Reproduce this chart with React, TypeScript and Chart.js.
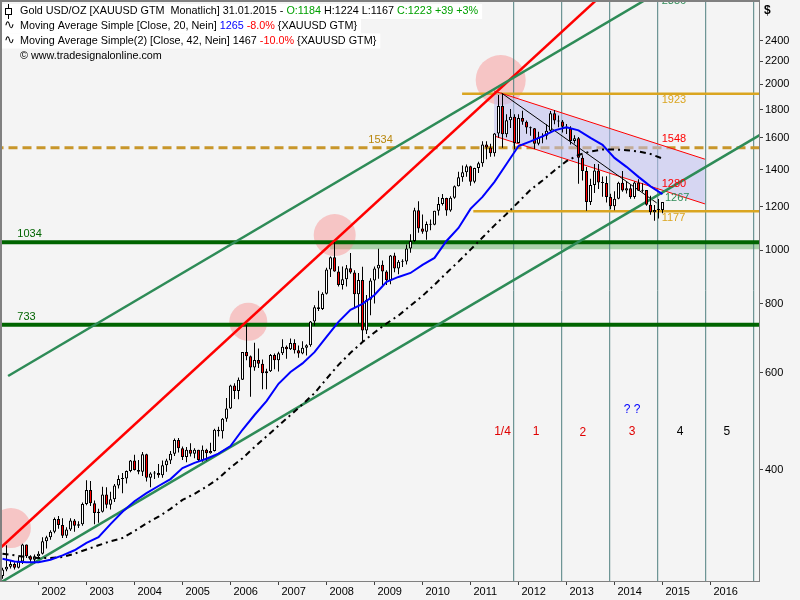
import React, { useEffect, useRef } from "react";
import { Chart, registerables } from "chart.js";

Chart.register(...registerables);

// x values are months counted from Jan 2001 (0 = Jan 2001). First candle = Apr 2001.
const firstMonth = 3;

const opens = [
  257, 264, 267, 270, 266, 273, 293, 279, 275,
  279, 282, 297, 302, 309, 326, 318, 304, 312, 324, 317, 319,
  347, 368, 348, 334, 336, 361, 346, 354, 375, 385, 386, 398,
  416, 400, 397, 427, 387, 394, 395, 391, 408, 416, 428, 453,
  438, 422, 435, 428, 435, 417, 435, 429, 433, 473, 470, 495,
  517, 569, 556, 583, 654, 643, 613, 633, 623, 599, 604, 646,
  632, 651, 669, 662, 679, 659, 650, 666, 673, 743, 789, 783,
  834, 923, 972, 916, 865, 886, 928, 912, 833, 884, 716, 814,
  882, 927, 942, 916, 883, 979, 927, 954, 955, 1008, 1040, 1182,
  1096, 1081, 1116, 1113, 1180, 1213, 1244, 1181, 1246, 1307, 1357, 1386,
  1421, 1332, 1410, 1439, 1556, 1536, 1500, 1628, 1826, 1624, 1722, 1746,
  1565, 1738, 1710, 1669, 1664, 1560, 1604, 1614, 1648, 1773, 1719, 1713,
  1675, 1663, 1579, 1596, 1472, 1393, 1224, 1313, 1396, 1327, 1324, 1250,
  1202, 1240, 1326, 1284, 1296, 1250, 1327, 1282, 1287, 1210, 1172, 1183,
  1184,
];
const highs = [
  266, 292, 274, 272, 278, 294, 293, 280, 281,
  285, 302, 304, 311, 328, 330, 327, 315, 327, 326, 323, 349,
  383, 382, 352, 340, 373, 372, 365, 377, 391, 395, 399, 417,
  426, 417, 431, 428, 396, 398, 410, 416, 419, 433, 456, 457,
  441, 440, 447, 438, 435, 443, 437, 448, 475, 479, 497, 540,
  571, 574, 588, 654, 732, 645, 680, 664, 634, 610, 649, 650,
  655, 690, 672, 692, 690, 672, 684, 676, 745, 795, 845, 840,
  930, 975, 1034, 936, 935, 941, 989, 920, 910, 934, 830, 890,
  935, 1007, 959, 920, 981, 990, 961, 964, 1025, 1070, 1195, 1227,
  1162, 1128, 1137, 1180, 1249, 1265, 1246, 1253, 1311, 1388, 1425, 1431,
  1424, 1411, 1447, 1576, 1577, 1560, 1632, 1912, 1921, 1764, 1804, 1764,
  1764, 1791, 1720, 1677, 1666, 1640, 1630, 1692, 1788, 1796, 1755, 1723,
  1694, 1678, 1616, 1605, 1488, 1416, 1348, 1434, 1434, 1361, 1362, 1267,
  1280, 1332, 1392, 1331, 1315, 1333, 1345, 1323, 1287, 1256, 1209, 1239,
  1224,
];
const lows = [
  254, 262, 265, 264, 265, 270, 277, 271, 271,
  277, 281, 288, 299, 307, 313, 301, 301, 310, 309, 314, 317,
  345, 344, 319, 321, 335, 341, 339, 350, 370, 363, 378, 396,
  399, 393, 390, 381, 372, 385, 387, 387, 397, 410, 424, 430,
  417, 413, 423, 420, 414, 414, 416, 428, 432, 460, 456, 489,
  516, 538, 537, 582, 632, 543, 605, 612, 560, 560, 602, 609,
  603, 646, 636, 660, 650, 639, 648, 645, 669, 730, 776, 780,
  832, 895, 915, 860, 849, 860, 907, 786, 736, 681, 705, 763,
  801, 888, 865, 865, 868, 913, 905, 933, 943, 990, 1035, 1076,
  1072, 1045, 1088, 1110, 1156, 1206, 1155, 1175, 1240, 1305, 1331, 1360,
  1309, 1323, 1381, 1417, 1462, 1478, 1480, 1600, 1535, 1604, 1667, 1523,
  1563, 1690, 1627, 1614, 1527, 1550, 1564, 1589, 1640, 1693, 1672, 1636,
  1626, 1555, 1562, 1321, 1338, 1180, 1208, 1271, 1292, 1251, 1221, 1187,
  1182, 1238, 1277, 1268, 1240, 1240, 1281, 1273, 1205, 1160, 1131, 1142,
  1167,
];
const closes = [
  264, 267, 270, 266, 273, 293, 279, 275, 279,
  282, 297, 302, 309, 326, 318, 304, 312, 324, 317, 319, 347,
  368, 348, 334, 336, 361, 346, 354, 375, 385, 386, 398, 416,
  400, 397, 427, 387, 394, 395, 391, 408, 416, 428, 453, 438,
  422, 435, 428, 435, 417, 435, 429, 433, 473, 470, 495, 517,
  569, 556, 583, 654, 643, 613, 633, 623, 599, 604, 646, 632,
  651, 669, 662, 679, 659, 650, 666, 673, 743, 789, 783, 834,
  923, 972, 916, 865, 886, 928, 912, 833, 884, 716, 814, 882,
  927, 942, 916, 883, 979, 927, 954, 955, 1008, 1040, 1182, 1096,
  1081, 1116, 1113, 1180, 1213, 1244, 1181, 1246, 1307, 1357, 1386, 1421,
  1332, 1410, 1439, 1556, 1536, 1500, 1628, 1826, 1624, 1722, 1746, 1565,
  1738, 1710, 1669, 1664, 1560, 1604, 1614, 1648, 1773, 1719, 1713, 1675,
  1663, 1579, 1596, 1472, 1393, 1224, 1313, 1396, 1327, 1324, 1250, 1202,
  1240, 1326, 1284, 1296, 1250, 1327, 1282, 1287, 1210, 1172, 1183, 1184,
  1223,
];

// moving averages (every third month)
const maMonths = [
  3, 6, 9, 12, 15, 18, 21, 24, 27, 30, 33, 36, 39, 42, 45, 48, 51, 54, 57, 60,
  63, 66, 69, 72, 75, 78, 81, 84, 87, 90, 93, 96, 99, 102, 105, 108, 111, 114,
  117, 120, 123, 126, 129, 132, 135, 138, 141, 144, 147, 150, 153, 156, 159,
  162, 165, 168,
];
const ma20 = [
  276, 273, 272, 272, 275, 280, 286, 295, 302, 319, 336, 351, 363, 374, 385,
  403, 412, 419, 428, 442, 473, 503, 533, 573, 602, 624, 654, 697, 742, 780,
  800, 830, 877, 895, 910, 941, 969, 1040, 1098, 1189, 1250, 1331, 1434, 1546,
  1576, 1609, 1650, 1672, 1650, 1599, 1553, 1471, 1417, 1359, 1306, 1265,
];
const ma42 = [
  282, 280, 278, 277, 277, 278, 282, 287, 292, 297, 301, 310, 320, 329, 340,
  353, 362, 373, 386, 404, 420, 440, 460, 481, 503, 526, 551, 585, 620, 652,
  682, 710, 737, 762, 794, 827, 866, 910, 954, 1003, 1055, 1110, 1164, 1224,
  1287, 1338, 1396, 1451, 1489, 1511, 1523, 1523, 1519, 1511, 1495, 1467,
];

const yearLabels = [2002, 2003, 2004, 2005, 2006, 2007, 2008, 2009, 2010, 2011, 2012, 2013, 2014, 2015, 2016];
const priceTicks = [400, 600, 800, 1000, 1200, 1400, 1600, 1800, 2000, 2200, 2400];

// drawn levels and trend lines (month, price)
const supportLevels = [1034, 733];
const topLevel = { from: 117.9, price: 1923 };
const bottomLevel = { from: 120.7, price: 1177 };
const dashedLevel = 1534;
const bandRange = { from: 84.9, top: 1034, bottom: 1005 };
const redTrend = [{ x: 2, y: 286.8 }, { x: 160, y: 3240 }];
const greenLower = [{ x: 2, y: 248.7 }, { x: 193, y: 1629 }];
const greenUpper = [{ x: 4.4, y: 592 }, { x: 193, y: 3796 }];
const channelUpper = [{ x: 125.9, y: 1945 }, { x: 178.6, y: 1463 }];
const channelLower = [{ x: 125.9, y: 1612 }, { x: 178.6, y: 1214 }];
const peakLine = [{ x: 127.8, y: 1927 }, { x: 166.55, y: 1219 }];
const circleCenters = [{ x: 5.1, y: 314 }, { x: 64.45, y: 742 }, { x: 86.05, y: 1066 }, { x: 127.55, y: 2036 }];
const circleRadii = [20, 19, 21, 25];
const cycleLines = [130.8, 142.8, 154.8, 166.8, 178.8, 190.8];

type Note = { text: string; x: number; y: number; color: string; align: CanvasTextAlign; size: number };
const notes: Note[] = [
  { text: "2856", x: 167.8, y: 2828, color: "#2e8b57", align: "left", size: 11 },
  { text: "1923", x: 167.8, y: 1873, color: "#daa520", align: "left", size: 11 },
  { text: "1548", x: 167.8, y: 1594, color: "#ff0000", align: "left", size: 11 },
  { text: "1280", x: 167.8, y: 1321, color: "#ff0000", align: "left", size: 11 },
  { text: "1267", x: 168.6, y: 1245, color: "#2e8b57", align: "left", size: 11 },
  { text: "1177", x: 167.8, y: 1147, color: "#daa520", align: "left", size: 11 },
  { text: "1534", x: 94.45, y: 1585, color: "#b8860b", align: "left", size: 11 },
  { text: "1034", x: 6.7, y: 1069, color: "#006400", align: "left", size: 11 },
  { text: "733", x: 6.7, y: 756, color: "#006400", align: "left", size: 11 },
  { text: "1/4", x: 128.0, y: 469, color: "#e00000", align: "center", size: 12 },
  { text: "1", x: 136.4, y: 469, color: "#e00000", align: "center", size: 12 },
  { text: "2", x: 148.1, y: 467, color: "#e00000", align: "center", size: 12 },
  { text: "3", x: 160.4, y: 469, color: "#e00000", align: "center", size: 12 },
  { text: "4", x: 172.4, y: 469, color: "#000000", align: "center", size: 12 },
  { text: "5", x: 184.1, y: 469, color: "#000000", align: "center", size: 12 },
  { text: "? ?", x: 160.4, y: 514, color: "#0000ff", align: "center", size: 12 },
];

type Seg = { t: string; c: string };
const headerRows: Seg[][] = [
  [
    { t: "Gold USD/OZ [XAUUSD GTM  Monatlich] 31.01.2015 - ", c: "#000000" },
    { t: "O:1184", c: "#00a000" },
    { t: " H:1224 L:1167 ", c: "#000000" },
    { t: "C:1223 +39 +3%", c: "#00a000" },
  ],
  [
    { t: "Moving Average Simple [Close, 20, Nein] ", c: "#000000" },
    { t: "1265", c: "#0000ff" },
    { t: " ", c: "#000000" },
    { t: "-8.0%", c: "#ff0000" },
    { t: " {XAUUSD GTM}", c: "#000000" },
  ],
  [
    { t: "Moving Average Simple(2) [Close, 42, Nein] 1467 ", c: "#000000" },
    { t: "-10.0%", c: "#ff0000" },
    { t: " {XAUUSD GTM}", c: "#000000" },
  ],
  [{ t: "\u00A9 www.tradesignalonline.com", c: "#000000" }],
];

const FONT = '"Liberation Sans", Arial, sans-serif';

const seg2 = (pts: { x: number; y: number }[]) => pts.map((p) => ({ x: p.x, y: p.y }));

export default function App() {
  const ref = useRef<HTMLCanvasElement>(null);

  useEffect(() => {
    const canvas = ref.current;
    if (!canvas) return;

    const months = opens.map((_, i) => firstMonth + i);
    const wickData = months.map((m, i) => ({ x: m, y: [lows[i], highs[i]] }));
    const bodyData = months.map((m, i) => ({
      x: m,
      y: [Math.min(opens[i], closes[i]), Math.max(opens[i], closes[i])],
    }));
    const bodyColors = months.map((_, i) => (closes[i] >= opens[i] ? "#ffffff" : "#ff0000"));

    const lineDs = (data: any[], color: string, width: number, order: number, extra: any = {}) => ({
      type: "line",
      data,
      borderColor: color,
      borderWidth: width,
      pointRadius: 0,
      pointHoverRadius: 0,
      fill: false,
      tension: 0,
      order,
      ...extra,
    });

    const datasets: any[] = [];
    // 0: band bottom, 1: band top (fills to 0)
    datasets.push(lineDs([{ x: bandRange.from, y: bandRange.bottom }, { x: 193, y: bandRange.bottom }], "rgba(0,0,0,0)", 0, 99));
    datasets.push(
      lineDs([{ x: bandRange.from, y: bandRange.top }, { x: 193, y: bandRange.top }], "rgba(0,0,0,0)", 0, 98, {
        fill: { target: 0 },
        backgroundColor: "rgba(80,165,80,0.45)",
      })
    );
    // 2: channel lower, 3: channel upper filled to lower
    datasets.push(lineDs(seg2(channelLower), "#ff0000", 1, 80));
    datasets.push(
      lineDs(seg2(channelUpper), "#ff0000", 1, 81, {
        fill: { target: 2 },
        backgroundColor: "rgba(190,190,240,0.55)",
      })
    );
    // circles
    datasets.push({
      type: "line",
      data: circleCenters.map((c) => ({ x: c.x, y: c.y })),
      showLine: false,
      pointRadius: circleRadii,
      pointHoverRadius: circleRadii,
      pointBackgroundColor: "rgba(248,140,140,0.45)",
      pointBorderWidth: 0,
      pointBorderColor: "rgba(0,0,0,0)",
      order: 97,
    });
    // cycle vertical lines
    cycleLines.forEach((m) => {
      datasets.push(lineDs([{ x: m, y: 200 }, { x: m, y: 4000 }], "#4f7f7f", 1, 96));
    });
    // horizontal levels
    supportLevels.forEach((p) => {
      datasets.push(lineDs([{ x: 1, y: p }, { x: 193, y: p }], "#006400", 4, 90));
    });
    datasets.push(lineDs([{ x: 1, y: dashedLevel }, { x: 193, y: dashedLevel }], "#c8962a", 3, 89, { borderDash: [9, 5] }));
    datasets.push(lineDs([{ x: topLevel.from, y: topLevel.price }, { x: 193, y: topLevel.price }], "#daa520", 2.5, 89));
    datasets.push(lineDs([{ x: bottomLevel.from, y: bottomLevel.price }, { x: 193, y: bottomLevel.price }], "#daa520", 2.5, 89));
    // trend lines
    datasets.push(lineDs(seg2(greenLower), "#2e8b57", 2.5, 70));
    datasets.push(lineDs(seg2(greenUpper), "#2e8b57", 2.5, 70));
    datasets.push(lineDs(seg2(redTrend), "#ff0000", 2.5, 70));
    datasets.push(lineDs(seg2(peakLine), "#000000", 1, 70));
    // candles
    datasets.push({
      type: "bar",
      data: wickData,
      backgroundColor: "#000000",
      borderWidth: 0,
      barThickness: 1,
      grouped: false,
      inflateAmount: 0,
      order: 51,
    });
    datasets.push({
      type: "bar",
      data: bodyData,
      backgroundColor: bodyColors,
      borderColor: "#000000",
      borderWidth: 1,
      borderSkipped: false,
      barThickness: 3,
      minBarLength: 1,
      grouped: false,
      inflateAmount: 0,
      order: 50,
    });
    // moving averages
    datasets.push(lineDs(maMonths.map((m, i) => ({ x: m, y: ma42[i] })), "#000000", 2, 41, { borderDash: [6, 4, 2, 4] }));
    datasets.push(lineDs(maMonths.map((m, i) => ({ x: m, y: ma20[i] })), "#0000ff", 2, 40));

    const decor = {
      id: "decor",
      beforeDraw(chart: any) {
        const ctx = chart.ctx;
        ctx.save();
        ctx.fillStyle = "#f4f4f4";
        ctx.fillRect(0, 0, chart.width, chart.height);
        ctx.restore();
      },
      afterDatasetsDraw(chart: any) {
        const ctx = chart.ctx;
        const xs = chart.scales.x;
        const ys = chart.scales.y;
        ctx.save();
        ctx.textBaseline = "middle";
        notes.forEach((n) => {
          ctx.font = `${n.size}px ${FONT}`;
          ctx.fillStyle = n.color;
          ctx.textAlign = n.align;
          ctx.fillText(n.text, xs.getPixelForValue(n.x), ys.getPixelForValue(n.y));
        });
        ctx.restore();
      },
      afterDraw(chart: any) {
        const ctx = chart.ctx;
        const a = chart.chartArea;
        ctx.save();
        // frame
        ctx.strokeStyle = "#808080";
        ctx.lineWidth = 2;
        ctx.beginPath();
        ctx.moveTo(a.left + 1, a.bottom);
        ctx.lineTo(a.left + 1, a.top + 1);
        ctx.lineTo(a.right, a.top + 1);
        ctx.stroke();
        // $ sign
        ctx.fillStyle = "#000";
        ctx.font = `bold 12px ${FONT}`;
        ctx.textBaseline = "middle";
        ctx.textAlign = "left";
        ctx.fillText("$", a.right + 5, 11);
        // header
        ctx.font = `10.8px ${FONT}`;
        const centers = [11.5, 26, 41, 56];
        headerRows.forEach((row, r) => {
          const y = centers[r];
          let w = 0;
          row.forEach((s) => (w += ctx.measureText(s.t).width));
          if (r < 3) {
            ctx.fillStyle = "#ffffff";
            ctx.fillRect(2, y - 7.5, 20 + w + 2, 15);
          }
          let x = 20;
          row.forEach((s) => {
            ctx.fillStyle = s.c;
            ctx.fillText(s.t, x, y);
            x += ctx.measureText(s.t).width;
          });
        });
        // icons
        ctx.strokeStyle = "#000";
        ctx.lineWidth = 1;
        ctx.beginPath();
        ctx.moveTo(8.5, 4);
        ctx.lineTo(8.5, 19);
        ctx.stroke();
        ctx.fillStyle = "#fff";
        ctx.fillRect(5.5, 8.5, 6, 6);
        ctx.strokeRect(5.5, 8.5, 6, 6);
        ctx.fillStyle = "#000";
        ctx.font = `13px "DejaVu Sans", sans-serif`;
        ctx.fillText("\u223F", 4, 26);
        ctx.fillText("\u223F", 4, 41);
        ctx.restore();
      },
    };

    const chart = new Chart(canvas, {
      type: "bar",
      data: { datasets },
      options: {
        animation: false,
        responsive: false,
        events: [],
        layout: { autoPadding: false, padding: 0 },
        plugins: { legend: { display: false }, tooltip: { enabled: false } },
        scales: {
          x: {
            type: "linear",
            min: 2.375,
            max: 192.125,
            offset: false,
            afterFit: (s: any) => {
              s.height = 19;
              s.paddingLeft = 0;
              s.paddingRight = 0;
            },
            afterBuildTicks: (s: any) => {
              s.ticks = yearLabels.map((y) => ({ value: (y - 2001) * 12 }));
            },
            grid: { display: true, drawOnChartArea: false, drawTicks: true, tickLength: 4, color: "#404040", offset: false },
            border: { display: true, color: "#808080", width: 1 },
            ticks: {
              autoSkip: false,
              maxRotation: 0,
              minRotation: 0,
              align: "start",
              labelOffset: 3,
              padding: 0,
              color: "#000",
              font: { family: FONT, size: 11 },
              callback: (_v: any, i: number) => String(yearLabels[i]),
            },
          },
          y: {
            type: "logarithmic",
            position: "right",
            min: 251.6,
            max: 2843,
            afterFit: (s: any) => {
              s.width = 41;
              s.paddingTop = 0;
              s.paddingBottom = 0;
            },
            afterBuildTicks: (s: any) => {
              s.ticks = priceTicks.map((v) => ({ value: v }));
            },
            grid: { display: true, drawOnChartArea: false, drawTicks: true, tickLength: 4, color: "#404040" },
            border: { display: true, color: "#808080", width: 1 },
            ticks: {
              autoSkip: false,
              padding: 2,
              color: "#000",
              font: { family: FONT, size: 11 },
              callback: (v: any) => String(v),
            },
          },
        },
      } as any,
      plugins: [decor],
    } as any);

    return () => chart.destroy();
  }, []);

  return (
    <div style={{ position: "absolute", left: 0, top: 0, width: 800, height: 600, background: "#f4f4f4" }}>
      <canvas ref={ref} width={800} height={600} style={{ width: 800, height: 600, display: "block" }} />
    </div>
  );
}
